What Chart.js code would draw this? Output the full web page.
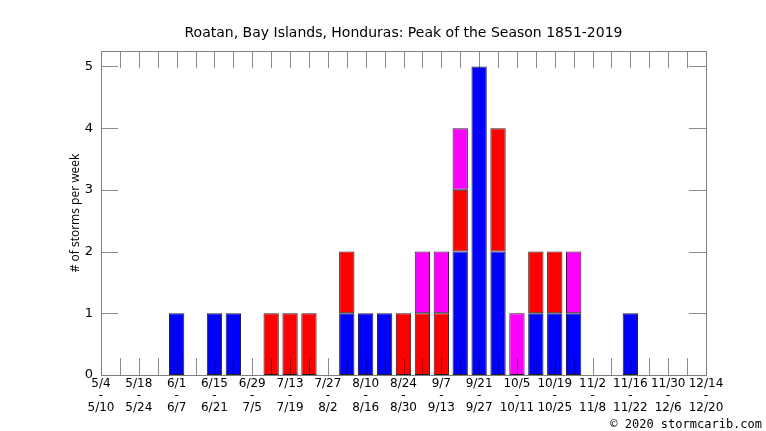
<!DOCTYPE html>
<html>
<head>
<meta charset="utf-8">
<script src="https://cdn.jsdelivr.net/npm/chart.js@4.4.1/dist/chart.umd.min.js"></script>
<style>
  html, body { margin: 0; padding: 0; background: #ffffff; }
  #wrap { width: 766px; height: 431px; position: relative; }
</style>
</head>
<body>
<div id="wrap"><canvas id="c" width="766" height="431"></canvas></div>
<script>
// Week starts (every week from 5/4 to 12/14)
const weekStarts = ['5/4','5/11','5/18','5/25','6/1','6/8','6/15','6/22','6/29','7/6','7/13','7/20','7/27','8/3','8/10','8/17','8/24','8/31','9/7','9/14','9/21','9/28','10/5','10/12','10/19','10/26','11/2','11/9','11/16','11/23','11/30','12/7','12/14'];
const weekEnds = ['5/10','5/17','5/24','5/31','6/7','6/14','6/21','6/28','7/5','7/12','7/19','7/26','8/2','8/9','8/16','8/23','8/30','9/6','9/13','9/20','9/27','10/4','10/11','10/18','10/25','11/1','11/8','11/15','11/22','11/29','12/6','12/13','12/20'];
// storms per week, by category (blue / red / magenta)
const blueCounts    = [0,0,0,0,1,0,1,1,0,0,0,0,0,1,1,1,0,0,0,2,5,2,0,1,1,1,0,0,1,0,0,0,0];
const redCounts     = [0,0,0,0,0,0,0,0,0,1,1,1,0,1,0,0,1,1,1,1,0,2,0,1,1,0,0,0,0,0,0,0,0];
const magentaCounts = [0,0,0,0,0,0,0,0,0,0,0,0,0,0,0,0,0,1,1,1,0,0,1,0,0,1,0,0,0,0,0,0,0];
const yTicks = [0,1,2,3,4,5];

const titleText = 'Roatan, Bay Islands, Honduras: Peak of the Season 1851-2019';
const footerText = '\u00a9 2020 stormcarib.com';

const nz = a => a.map(v => v === 0 ? null : v);
const labels = weekStarts.map((s, i) => [s, '-', weekEnds[i]]);

const decor = {
  id: 'decor',
  afterDatasetsDraw(chart) {
    const ctx = chart.ctx;
    const a = chart.chartArea;
    const xs = chart.scales.x, ys = chart.scales.y;
    ctx.save();
    ctx.lineWidth = 1;
    ctx.strokeStyle = 'rgba(0,0,0,0.45)';
    const L = 17;
    ctx.beginPath();
    for (let i = 1; i < weekStarts.length - 1; i++) {
      const x = Math.round(xs.getPixelForValue(i)) + 0.5;
      ctx.moveTo(x, a.bottom); ctx.lineTo(x, a.bottom - L);
      ctx.moveTo(x, a.top); ctx.lineTo(x, a.top + L);
    }
    yTicks.forEach(v => {
      if (v === 0) return;
      const y = Math.round(ys.getPixelForValue(v)) + 0.5;
      ctx.moveTo(a.left, y); ctx.lineTo(a.left + L, y);
      ctx.moveTo(a.right, y); ctx.lineTo(a.right - L, y);
    });
    ctx.stroke();
    ctx.strokeStyle = '#808080';
    ctx.strokeRect(Math.round(a.left) + 0.5, Math.round(a.top) + 0.5, Math.round(a.right - a.left), Math.round(a.bottom - a.top));
    ctx.restore();
  },
  afterDraw(chart) {
    const ctx = chart.ctx;
    const a = chart.chartArea;
    ctx.save();
    ctx.fillStyle = '#000';
    ctx.font = '14px "DejaVu Sans"';
    ctx.textAlign = 'center';
    ctx.textBaseline = 'middle';
    ctx.fillText(titleText, (a.left + a.right) / 2, 33);
    ctx.font = '12px "DejaVu Sans Mono"';
    ctx.textAlign = 'right';
    ctx.fillText(footerText, 762, 425);
    ctx.restore();
  }
};

new Chart(document.getElementById('c'), {
  type: 'bar',
  data: {
    labels: labels,
    datasets: [
      { label: 'blue', data: nz(blueCounts), backgroundColor: '#0000ff', borderColor: '#222222', borderWidth: 1, borderSkipped: false },
      { label: 'red', data: nz(redCounts), backgroundColor: '#ff0000', borderColor: '#222222', borderWidth: 1, borderSkipped: false },
      { label: 'magenta', data: nz(magentaCounts), backgroundColor: '#ff00ff', borderColor: '#222222', borderWidth: 1, borderSkipped: false }
    ]
  },
  options: {
    responsive: false,
    animation: false,
    devicePixelRatio: 1,
    layout: { padding: { left: 0, top: 51, right: 60, bottom: 0 } },
    datasets: { bar: { barPercentage: 0.81, categoryPercentage: 1.0 } },
    plugins: { legend: { display: false }, title: { display: false }, tooltip: { enabled: false } },
    scales: {
      x: {
        stacked: true,
        offset: false,
        grid: { display: false, drawTicks: false },
        border: { display: false },
        afterFit: s => { s.height = 56; },
        ticks: {
          autoSkip: false, maxRotation: 0, minRotation: 0, padding: 3,
          color: '#000',
          font: { family: 'DejaVu Sans', size: 12, lineHeight: 1.0 },
          callback: function (v, i) { return i % 2 === 0 ? labels[i] : ''; }
        }
      },
      y: {
        stacked: true,
        min: 0, max: 5.25,
        grid: { display: false, drawTicks: false },
        border: { display: false },
        afterFit: s => { s.width = 101; },
        ticks: {
          stepSize: 1, includeBounds: false, padding: 8, color: '#000',
          font: { family: 'DejaVu Sans', size: 13 }
        },
        title: {
          display: true, text: '# of storms per week', color: '#000',
          font: { family: 'Open Sans', size: 12 }, padding: { top: 68, bottom: 0 }
        }
      }
    }
  },
  plugins: [decor]
});
</script>
</body>
</html>
